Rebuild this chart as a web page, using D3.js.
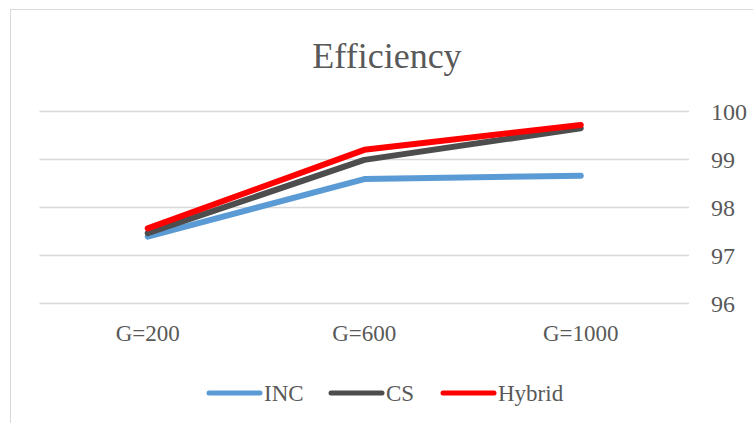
<!DOCTYPE html>
<html>
<head>
<meta charset="utf-8">
<script src="https://cdn.jsdelivr.net/npm/d3@7"></script>
<style>
  html, body { margin: 0; padding: 0; background: #fff; }
  svg { display: block; }
  svg text { font-family: "Liberation Serif", "DejaVu Serif", serif !important; fill: #595959; }
</style>
</head>
<body>
<svg id="chart" width="753" height="423"></svg>
<script>
// Categories and series values
const categories = ["G=200", "G=600", "G=1000"];
const incValues = [97.38, 98.58, 98.65];
const csValues = [97.45, 98.98, 99.64];
const hybridValues = [97.55, 99.19, 99.71];
const yTicks = [96, 97, 98, 99, 100];

const series = [
  { name: "INC", values: incValues, color: "#5B9BD5" },
  { name: "CS", values: csValues, color: "#4D4D4D" },
  { name: "Hybrid", values: hybridValues, color: "#FF0000" }
];

const svg = d3.select("#chart");
const serif = "'Liberation Serif', 'DejaVu Serif', serif";

// Chart area frame
svg.append("rect")
  .attr("x", 10.5).attr("y", 9.5)
  .attr("width", 800).attr("height", 500)
  .attr("fill", "#fff").attr("stroke", "#D9D9D9").attr("stroke-width", 1);

const plot = { left: 39.5, right: 689, top: 111, bottom: 302.7 };

const x = d3.scaleBand().domain(categories).range([plot.left, plot.right]);
const y = d3.scaleLinear().domain([96, 100]).range([plot.bottom, plot.top]);

// Title
svg.append("text")
  .attr("x", 387).attr("y", 68)
  .attr("text-anchor", "middle")
  .attr("font-family", serif)
  .style("font-size", "36px")
  .text("Efficiency");

// Horizontal gridlines
svg.append("g")
  .selectAll("line")
  .data(yTicks)
  .join("line")
  .attr("x1", plot.left).attr("x2", plot.right)
  .attr("y1", d => Math.round(y(d)) + 0.5).attr("y2", d => Math.round(y(d)) + 0.5)
  .attr("stroke", "#D9D9D9").attr("stroke-width", 1.5);

// Right value axis
const yAxis = d3.axisRight(y).tickValues(yTicks).tickFormat(d3.format("d")).tickSize(0).tickPadding(0);
const gy = svg.append("g")
  .attr("transform", `translate(711,0)`)
  .call(yAxis)
  .attr("font-family", serif);
gy.select(".domain").remove();
gy.selectAll("text")
  .attr("dy", "0.36em")
  .style("font-size", "24px")
  .attr("fill", "#595959");

// Category axis
const xAxis = d3.axisBottom(x).tickSize(0).tickPadding(0);
const gx = svg.append("g")
  .attr("transform", `translate(0,${plot.bottom + 38})`)
  .call(xAxis)
  .attr("font-family", serif);
gx.select(".domain").remove();
gx.selectAll("text")
  .attr("dy", 0)
  .style("font-size", "23px")
  .attr("fill", "#595959");

// Series lines
const line = d3.line()
  .x((d, i) => x(categories[i]) + x.bandwidth() / 2)
  .y(d => y(d));

svg.append("g")
  .selectAll("path")
  .data(series)
  .join("path")
  .attr("d", d => line(d.values))
  .attr("fill", "none")
  .attr("stroke", d => d.color)
  .attr("stroke-width", 6)
  .attr("stroke-linecap", "round")
  .attr("stroke-linejoin", "round");

// Legend
const legendItems = [
  { s: series[0], lx: 209, tx: 264 },
  { s: series[1], lx: 331, tx: 386 },
  { s: series[2], lx: 443, tx: 498 }
];
const legendY = 393;
const lg = svg.append("g").attr("font-family", serif);
legendItems.forEach(item => {
  lg.append("line")
    .attr("x1", item.lx).attr("x2", item.lx + 51)
    .attr("y1", legendY).attr("y2", legendY)
    .attr("stroke", item.s.color).attr("stroke-width", 5)
    .attr("stroke-linecap", "round");
  lg.append("text")
    .attr("x", item.tx).attr("y", legendY + 8)
    .style("font-size", "23px")
    .text(item.s.name);
});
</script>
</body>
</html>
